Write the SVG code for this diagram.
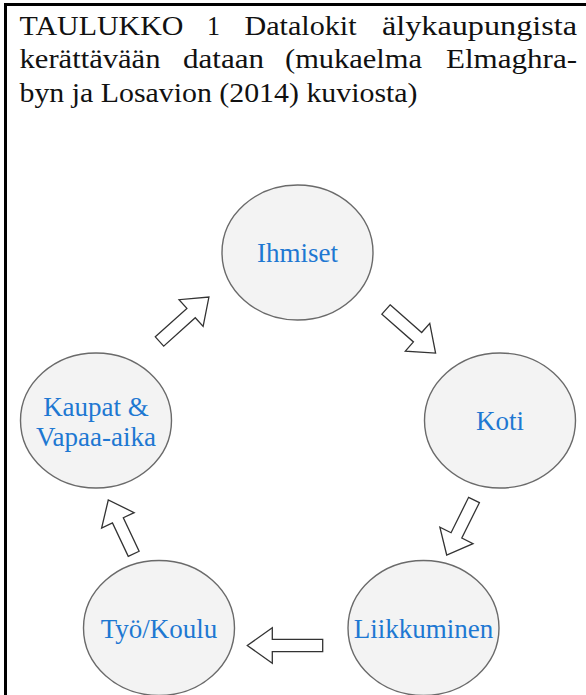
<svg xmlns="http://www.w3.org/2000/svg" width="586" height="695" viewBox="0 0 586 695">
<style>
.title text{font-size:28px;fill:#111}
.node ellipse{fill:#f3f3f3;stroke:#6a6a6a;stroke-width:1.4}
.node text{font-size:27px;fill:#1e78d2;text-anchor:middle}
.arrow{fill:#fff;stroke:#333;stroke-width:1.3;stroke-linejoin:miter}
</style>
<rect x="0" y="0" width="586" height="695" fill="#fff"/>
<line x1="5.5" y1="3" x2="5.5" y2="695" stroke="#000" stroke-width="3"/>
<line x1="4" y1="4.5" x2="586" y2="4.5" stroke="#000" stroke-width="3"/>
<g id="title" class="title" font-family="Liberation Serif, Times New Roman, serif">
<text x="19.5" y="34.5" textLength="164" lengthAdjust="spacingAndGlyphs">TAULUKKO</text>
<text x="207" y="34.5" textLength="13" lengthAdjust="spacingAndGlyphs">1</text>
<text x="244.5" y="34.5" textLength="112" lengthAdjust="spacingAndGlyphs">Datalokit</text>
<text x="382" y="34.5" textLength="195" lengthAdjust="spacingAndGlyphs">älykaupungista</text>
<text x="19.5" y="68" textLength="141" lengthAdjust="spacingAndGlyphs">kerättävään</text>
<text x="183" y="68" textLength="81" lengthAdjust="spacingAndGlyphs">dataan</text>
<text x="285" y="68" textLength="137" lengthAdjust="spacingAndGlyphs">(mukaelma</text>
<text x="446" y="68" textLength="131" lengthAdjust="spacingAndGlyphs">Elmaghra-</text>
<text x="19.5" y="101.5" textLength="398" lengthAdjust="spacingAndGlyphs">byn ja Losavion (2014) kuviosta)</text>
</g>
<g id="connectors">
<path class="arrow" transform="translate(159.5,341.5) rotate(-42)" d="M0,-6.25 L42.5,-6.25 L42.5,-18 L66.5,0 L42.5,18 L42.5,6.25 L0,6.25 Z"/>
<path class="arrow" transform="translate(386,309.5) rotate(41.3)" d="M0,-6.25 L42,-6.25 L42,-18.5 L66,0 L42,18.5 L42,6.25 L0,6.25 Z"/>
<path class="arrow" transform="translate(474,500) rotate(116.4)" d="M0,-6 L39.5,-6 L39.5,-18.5 L61.4,0 L39.5,18.5 L39.5,6 L0,6 Z"/>
<path class="arrow" transform="translate(322.7,645.5) rotate(180)" d="M0,-6.2 L50.4,-6.2 L50.4,-17.7 L75.4,0 L50.4,17.7 L50.4,6.2 L0,6.2 Z"/>
<path class="arrow" transform="translate(133.7,553.8) rotate(-115.3)" d="M0,-6 L37,-6 L37,-18 L59.5,0 L37,18 L37,6 L0,6 Z"/>
</g>
<g font-family="Liberation Serif, Times New Roman, serif">
<g id="node-ihmiset" class="node"><ellipse cx="297.5" cy="252.5" rx="75.5" ry="67.5"/><text x="297.5" y="262">Ihmiset</text></g>
<g id="node-koti" class="node"><ellipse cx="500" cy="420.5" rx="75.5" ry="67.5"/><text x="500" y="430">Koti</text></g>
<g id="node-liikkuminen" class="node"><ellipse cx="423.5" cy="628" rx="75.5" ry="67.5"/><text x="423.5" y="638">Liikkuminen</text></g>
<g id="node-tyokoulu" class="node"><ellipse cx="159" cy="628" rx="75.5" ry="67.5"/><text x="159" y="638">Työ/Koulu</text></g>
<g id="node-kaupat" class="node"><ellipse cx="96" cy="420.5" rx="75.5" ry="67.5"/><text x="96" y="416">Kaupat &amp;</text><text x="96" y="446">Vapaa-aika</text></g>
</g>
</svg>
